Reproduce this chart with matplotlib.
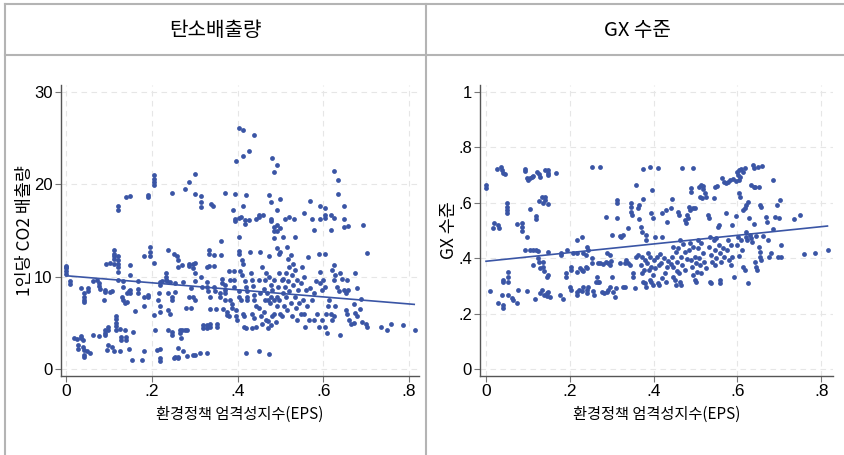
import numpy as np
import matplotlib.pyplot as plt
from matplotlib.lines import Line2D

# 1인당 CO2 배출량 vs EPS (x, y)
co2_pts = np.array([
    (0.000, 11.2), (0.000, 10.9), (0.000, 10.6), (0.000, 10.3), (0.000, 11.0),
    (0.009, 9.5), (0.009, 9.2), (0.018, 3.4), (0.025, 3.3), (0.029, 2.6), (0.029, 2.2),
    (0.034, 3.6), (0.034, 3.4), (0.039, 3.1), (0.039, 2.4), (0.042, 2.1), (0.042, 1.5),
    (0.042, 1.3), (0.048, 2.0), (0.056, 1.7), (0.034, 8.8), (0.042, 8.2), (0.042, 7.8),
    (0.042, 7.5), (0.042, 7.3), (0.052, 8.8), (0.052, 8.4), (0.062, 3.7),
    (0.064, 9.5), (0.072, 9.6), (0.076, 9.3), (0.078, 9.0), (0.079, 8.7), (0.076, 3.6),
    (0.090, 4.2), (0.090, 3.9), (0.090, 3.7), (0.099, 4.6), (0.099, 4.2), (0.090, 8.6),
    (0.090, 8.3), (0.088, 7.5), (0.103, 8.3), (0.107, 8.5), (0.093, 11.4), (0.103, 11.5),
    (0.095, 2.1), (0.099, 2.6), (0.107, 2.4),
    (0.112, 12.9), (0.112, 12.5), (0.112, 12.2), (0.112, 11.9), (0.122, 12.2), (0.122, 11.8),
    (0.122, 11.4), (0.122, 11.1), (0.122, 10.5), (0.113, 11.4), (0.122, 9.6),
    (0.117, 5.7), (0.117, 5.4), (0.117, 5.0), (0.117, 4.7), (0.117, 4.2), (0.112, 1.9),
    (0.126, 4.3), (0.128, 3.5), (0.128, 3.1), (0.126, 1.9), (0.134, 9.5), (0.134, 8.9),
    (0.130, 7.8), (0.132, 7.5), (0.138, 7.1), (0.142, 7.3), (0.142, 8.2), (0.146, 8.4),
    (0.138, 4.2), (0.140, 3.5), (0.140, 3.1), (0.150, 11.3), (0.150, 10.2), (0.150, 8.6),
    (0.150, 8.2), (0.148, 2.2), (0.153, 1.0),
    (0.156, 4.0), (0.161, 6.3), (0.167, 9.5), (0.167, 8.7), (0.167, 8.2), (0.177, 1.0),
    (0.181, 6.8), (0.181, 7.8), (0.182, 2.0), (0.181, 12.2), (0.195, 13.2), (0.195, 12.7),
    (0.195, 12.2), (0.206, 11.5), (0.192, 8.0), (0.192, 7.8), (0.206, 5.8),
    (0.208, 4.2), (0.212, 2.1), (0.218, 2.2), (0.220, 1.2), (0.220, 0.9), (0.220, 9.4),
    (0.220, 9.1), (0.224, 9.5), (0.217, 8.2), (0.215, 7.5), (0.220, 6.8), (0.220, 6.2),
    (0.234, 10.4), (0.234, 10.0), (0.234, 9.6), (0.237, 12.9), (0.235, 9.5), (0.243, 9.4),
    (0.237, 8.2), (0.238, 6.4), (0.243, 6.0), (0.238, 4.2), (0.247, 7.8), (0.247, 7.5),
    (0.251, 12.5), (0.251, 1.2), (0.255, 1.3), (0.255, 9.3), (0.255, 8.3), (0.247, 4.0),
    (0.247, 3.7),
    (0.259, 12.2), (0.260, 11.8), (0.260, 11.1), (0.260, 2.3), (0.260, 1.2), (0.262, 1.3),
    (0.265, 3.9), (0.266, 4.2), (0.268, 3.4), (0.270, 4.2), (0.270, 11.3), (0.272, 9.4),
    (0.273, 2.0), (0.278, 4.2), (0.282, 4.2), (0.280, 6.6), (0.283, 1.4), (0.286, 11.4),
    (0.287, 11.2), (0.292, 8.8), (0.292, 6.6), (0.286, 7.8), (0.297, 11.4), (0.301, 11.5),
    (0.297, 10.9), (0.301, 10.4), (0.297, 7.8), (0.301, 7.5), (0.297, 1.5), (0.301, 1.5),
    (0.300, 9.5),
    (0.312, 1.7), (0.329, 1.7), (0.315, 10.0), (0.317, 8.9), (0.319, 4.8), (0.319, 4.4),
    (0.329, 4.8), (0.329, 4.4), (0.336, 4.9), (0.336, 4.5), (0.329, 9.4), (0.329, 8.9),
    (0.330, 8.4), (0.334, 12.9), (0.334, 12.5), (0.334, 11.2), (0.329, 11.1), (0.335, 6.5),
    (0.344, 8.9), (0.348, 8.4), (0.336, 7.8), (0.346, 12.3), (0.346, 11.2), (0.349, 6.5),
    (0.352, 4.6), (0.352, 4.9),
    (0.360, 7.8), (0.358, 8.2), (0.362, 13.9), (0.362, 12.4), (0.364, 9.7), (0.364, 9.3),
    (0.367, 6.5), (0.371, 9.1), (0.371, 8.6), (0.371, 8.2), (0.371, 7.5), (0.375, 6.2),
    (0.375, 5.8), (0.379, 5.7), (0.379, 10.6), (0.383, 9.6), (0.383, 7.5), (0.387, 7.0),
    (0.387, 6.6), (0.391, 10.6), (0.391, 9.6), (0.391, 8.9), (0.397, 6.4), (0.397, 5.7),
    (0.399, 5.3), (0.403, 14.3), (0.403, 12.8), (0.403, 12.5), (0.403, 8.4), (0.403, 7.8),
    (0.407, 7.5), (0.405, 10.6), (0.410, 10.2), (0.410, 11.8), (0.413, 11.4), (0.413, 6.0),
    (0.414, 5.7), (0.416, 4.6), (0.420, 1.7), (0.418, 9.5), (0.420, 8.9), (0.422, 8.4),
    (0.422, 7.8), (0.422, 7.5), (0.420, 4.4), (0.430, 12.7), (0.432, 10.4), (0.434, 9.6),
    (0.436, 9.0), (0.438, 8.0), (0.438, 7.5), (0.434, 6.0), (0.438, 5.5), (0.442, 6.8),
    (0.442, 4.6), (0.434, 4.4), (0.449, 1.9),
    (0.453, 12.7), (0.458, 11.1), (0.449, 9.6), (0.461, 8.7), (0.452, 8.2), (0.463, 7.5),
    (0.455, 5.7), (0.466, 5.3), (0.458, 4.9), (0.451, 6.6), (0.462, 6.2), (0.467, 10.4),
    (0.474, 10.0), (0.465, 9.6), (0.477, 9.1), (0.469, 8.2), (0.479, 7.8), (0.470, 7.5),
    (0.476, 7.1), (0.473, 1.6), (0.473, 12.2), (0.481, 5.7), (0.472, 5.2), (0.479, 4.8),
    (0.470, 4.4), (0.486, 9.6), (0.481, 8.6), (0.491, 7.8), (0.484, 7.5), (0.493, 6.8),
    (0.485, 6.0), (0.490, 5.1), (0.492, 13.1), (0.496, 12.5), (0.500, 12.7), (0.496, 10.4),
    (0.503, 9.6), (0.494, 8.9), (0.506, 8.2), (0.497, 7.5), (0.509, 6.8), (0.499, 6.0),
    (0.504, 5.7), (0.512, 10.4), (0.506, 9.8), (0.518, 9.5), (0.510, 8.9), (0.521, 8.4),
    (0.513, 7.8), (0.524, 7.1), (0.515, 6.4), (0.527, 5.7), (0.516, 13.2), (0.525, 12.3),
    (0.517, 11.9), (0.529, 11.4), (0.521, 11.1), (0.533, 10.7), (0.526, 10.2), (0.538, 9.6),
    (0.530, 9.1), (0.541, 8.6), (0.533, 7.8), (0.544, 7.1), (0.536, 6.6), (0.547, 6.0),
    (0.539, 5.3), (0.551, 11.1), (0.556, 10.0), (0.549, 9.3), (0.560, 8.6), (0.552, 7.5),
    (0.563, 6.8), (0.555, 6.0), (0.566, 5.3), (0.558, 4.6), (0.564, 12.1),
    (0.570, 8.8), (0.578, 8.2), (0.582, 9.5), (0.574, 7.5), (0.586, 6.0), (0.579, 5.3),
    (0.590, 4.6), (0.590, 12.5), (0.578, 15.1), (0.593, 10.5), (0.599, 9.6), (0.592, 9.3),
    (0.604, 8.9), (0.596, 8.6), (0.607, 6.0), (0.598, 5.3), (0.603, 4.6), (0.609, 3.9),
    (0.603, 12.5), (0.612, 6.8), (0.613, 7.5), (0.617, 6.0), (0.621, 5.3), (0.625, 5.7),
    (0.628, 6.8), (0.625, 11.3), (0.621, 10.7), (0.628, 10.2), (0.624, 9.6), (0.632, 8.9),
    (0.636, 8.4), (0.639, 3.7), (0.640, 10.4), (0.644, 9.8), (0.648, 8.6), (0.652, 8.2),
    (0.656, 9.6), (0.657, 8.6), (0.652, 6.4), (0.656, 6.0), (0.660, 5.3), (0.664, 4.9),
    (0.675, 10.4), (0.679, 8.8), (0.671, 7.0), (0.675, 6.1), (0.679, 5.7), (0.671, 5.0),
    (0.687, 7.6), (0.685, 6.5), (0.691, 5.1), (0.699, 4.9), (0.702, 4.6), (0.702, 12.6),
    (0.735, 4.6), (0.749, 4.2), (0.759, 4.9), (0.787, 4.8), (0.814, 4.2),
    # 상단 이상치
    (0.403, 26.1), (0.412, 25.9), (0.439, 25.3), (0.397, 22.5), (0.412, 23.1), (0.426, 23.6),
    (0.481, 22.9), (0.491, 22.1), (0.486, 21.3), (0.625, 21.4), (0.634, 20.5), (0.634, 19.0),
    (0.204, 21.0), (0.204, 20.6), (0.204, 20.3), (0.204, 19.9), (0.301, 21.1), (0.287, 20.2),
    (0.278, 19.5), (0.246, 19.1), (0.190, 18.8), (0.190, 18.6), (0.140, 18.6), (0.150, 18.7),
    (0.122, 17.7), (0.122, 17.2), (0.301, 19.0), (0.315, 18.7), (0.315, 18.1), (0.315, 17.5),
    (0.338, 17.9), (0.343, 17.6), (0.370, 19.1), (0.393, 18.9), (0.420, 18.8), (0.413, 17.6),
    (0.389, 17.2), (0.394, 16.2), (0.394, 16.0), (0.403, 16.4), (0.407, 16.5), (0.418, 16.1),
    (0.418, 15.7), (0.426, 16.1), (0.442, 16.3), (0.449, 16.7), (0.449, 16.5), (0.460, 16.7),
    (0.473, 18.8), (0.477, 18.1), (0.500, 18.4), (0.491, 17.2), (0.478, 16.3), (0.478, 16.0),
    (0.484, 15.4), (0.486, 14.9), (0.491, 15.6), (0.493, 15.0), (0.498, 15.3),
    (0.510, 16.3), (0.520, 16.5), (0.531, 16.3), (0.484, 14.2), (0.505, 14.3), (0.533, 14.3),
    (0.569, 18.2), (0.555, 16.9), (0.574, 16.3), (0.593, 17.6), (0.593, 16.3), (0.603, 17.4),
    (0.603, 16.7), (0.603, 16.4), (0.618, 16.7), (0.618, 15.1), (0.625, 16.4), (0.648, 17.7),
    (0.648, 16.2), (0.648, 15.4), (0.657, 15.5), (0.693, 15.6),
])

# GX 수준 vs EPS (x, y)
gx_pts = np.array([
    (0.000, 0.664), (0.000, 0.652), (0.010, 0.283), (0.019, 0.526), (0.017, 0.508),
    (0.029, 0.520), (0.032, 0.508), (0.027, 0.721), (0.035, 0.730), (0.037, 0.718),
    (0.041, 0.706), (0.045, 0.704), (0.029, 0.237), (0.037, 0.267), (0.041, 0.231),
    (0.041, 0.219), (0.040, 0.315), (0.040, 0.321), (0.051, 0.598), (0.051, 0.586),
    (0.051, 0.574), (0.051, 0.562), (0.053, 0.351), (0.053, 0.333), (0.053, 0.315),
    (0.053, 0.267), (0.061, 0.255), (0.065, 0.249), (0.073, 0.237), (0.073, 0.523),
    (0.077, 0.285), (0.085, 0.528), (0.087, 0.514), (0.087, 0.499), (0.093, 0.721),
    (0.093, 0.715), (0.097, 0.283), (0.097, 0.478), (0.097, 0.690), (0.101, 0.684),
    (0.105, 0.690), (0.109, 0.693), (0.113, 0.697), (0.106, 0.576), (0.111, 0.430),
    (0.105, 0.430), (0.093, 0.430), (0.111, 0.375), (0.117, 0.251), (0.119, 0.552),
    (0.119, 0.540), (0.119, 0.430), (0.125, 0.427), (0.122, 0.712), (0.127, 0.704),
    (0.129, 0.694), (0.125, 0.400), (0.127, 0.387), (0.129, 0.363), (0.130, 0.273),
    (0.133, 0.285), (0.127, 0.608), (0.133, 0.620), (0.137, 0.598), (0.137, 0.387),
    (0.137, 0.369), (0.139, 0.355), (0.141, 0.720), (0.149, 0.720), (0.149, 0.709),
    (0.149, 0.700), (0.141, 0.620), (0.141, 0.610), (0.149, 0.596), (0.138, 0.266),
    (0.145, 0.273), (0.145, 0.263), (0.149, 0.279), (0.152, 0.261), (0.145, 0.333),
    (0.149, 0.339), (0.149, 0.424), (0.167, 0.709),
    (0.176, 0.267), (0.184, 0.251), (0.180, 0.420), (0.180, 0.412), (0.191, 0.345),
    (0.191, 0.333), (0.194, 0.430), (0.200, 0.295), (0.204, 0.285), (0.202, 0.369),
    (0.204, 0.357), (0.208, 0.418), (0.217, 0.420), (0.216, 0.466), (0.230, 0.478),
    (0.216, 0.279), (0.218, 0.267), (0.222, 0.285), (0.230, 0.283), (0.232, 0.297),
    (0.240, 0.285), (0.241, 0.273), (0.244, 0.295), (0.218, 0.351), (0.224, 0.363),
    (0.228, 0.357), (0.232, 0.355), (0.238, 0.369), (0.241, 0.363), (0.232, 0.418),
    (0.238, 0.412), (0.240, 0.440), (0.244, 0.430), (0.252, 0.400), (0.252, 0.381),
    (0.254, 0.730), (0.256, 0.283), (0.257, 0.267), (0.262, 0.315), (0.264, 0.333),
    (0.268, 0.315), (0.270, 0.315), (0.268, 0.381), (0.272, 0.384), (0.272, 0.730),
    (0.276, 0.279), (0.281, 0.273), (0.288, 0.279), (0.291, 0.285), (0.297, 0.295),
    (0.280, 0.379), (0.286, 0.387), (0.291, 0.381), (0.295, 0.375), (0.299, 0.391),
    (0.286, 0.548), (0.288, 0.418), (0.295, 0.412), (0.300, 0.484), (0.300, 0.333),
    (0.303, 0.279), (0.307, 0.261), (0.310, 0.291), (0.313, 0.544), (0.313, 0.610),
    (0.313, 0.598), (0.319, 0.480), (0.323, 0.478), (0.319, 0.381), (0.326, 0.297),
    (0.331, 0.297), (0.327, 0.484), (0.331, 0.381), (0.335, 0.393), (0.339, 0.381),
    (0.343, 0.375), (0.339, 0.508), (0.347, 0.598), (0.347, 0.586), (0.347, 0.568),
    (0.349, 0.556), (0.351, 0.345), (0.351, 0.333), (0.355, 0.291), (0.359, 0.406),
    (0.363, 0.412), (0.363, 0.580), (0.365, 0.540), (0.359, 0.664), (0.365, 0.592),
    (0.371, 0.514), (0.373, 0.496), (0.373, 0.406), (0.380, 0.394), (0.369, 0.375),
    (0.378, 0.357), (0.372, 0.345), (0.375, 0.614), (0.375, 0.721), (0.392, 0.730),
    (0.411, 0.724), (0.375, 0.315), (0.379, 0.309), (0.381, 0.297), (0.383, 0.484),
    (0.383, 0.466), (0.387, 0.418), (0.391, 0.406), (0.384, 0.381), (0.395, 0.369),
    (0.388, 0.357), (0.399, 0.339), (0.392, 0.321), (0.395, 0.315), (0.399, 0.303),
    (0.397, 0.646), (0.395, 0.562), (0.399, 0.544),
    (0.403, 0.475), (0.409, 0.406), (0.401, 0.394), (0.412, 0.375), (0.404, 0.363),
    (0.411, 0.312), (0.413, 0.303), (0.419, 0.562), (0.421, 0.478), (0.416, 0.415),
    (0.426, 0.400), (0.418, 0.381), (0.428, 0.345), (0.420, 0.327), (0.429, 0.315),
    (0.430, 0.574), (0.432, 0.532), (0.434, 0.391), (0.441, 0.379), (0.431, 0.369),
    (0.442, 0.580), (0.445, 0.612), (0.446, 0.440), (0.454, 0.424), (0.443, 0.406),
    (0.457, 0.388), (0.447, 0.370), (0.455, 0.352), (0.446, 0.333), (0.450, 0.321),
    (0.453, 0.303), (0.458, 0.568), (0.461, 0.556), (0.462, 0.466), (0.471, 0.452),
    (0.459, 0.436), (0.476, 0.421), (0.465, 0.404), (0.480, 0.396), (0.468, 0.377),
    (0.474, 0.359), (0.461, 0.347), (0.462, 0.315), (0.466, 0.303), (0.468, 0.724),
    (0.474, 0.538), (0.477, 0.526), (0.480, 0.556), (0.482, 0.544), (0.485, 0.586),
    (0.488, 0.574), (0.486, 0.454), (0.495, 0.442), (0.484, 0.430), (0.498, 0.406),
    (0.489, 0.394), (0.501, 0.381), (0.492, 0.369), (0.503, 0.351), (0.494, 0.339),
    (0.494, 0.724), (0.490, 0.652), (0.490, 0.640), (0.494, 0.580), (0.498, 0.580),
    (0.498, 0.321), (0.502, 0.315),
    (0.506, 0.466), (0.514, 0.454), (0.505, 0.436), (0.518, 0.418), (0.508, 0.400),
    (0.521, 0.388), (0.510, 0.376), (0.524, 0.364), (0.513, 0.345), (0.508, 0.658),
    (0.514, 0.664), (0.518, 0.661), (0.519, 0.649), (0.522, 0.634), (0.511, 0.622),
    (0.516, 0.616), (0.526, 0.622), (0.530, 0.556), (0.532, 0.544), (0.535, 0.478),
    (0.543, 0.466), (0.532, 0.442), (0.547, 0.430), (0.536, 0.412), (0.549, 0.400),
    (0.539, 0.388), (0.546, 0.375), (0.535, 0.315), (0.538, 0.309), (0.544, 0.616),
    (0.546, 0.656), (0.551, 0.661), (0.550, 0.472), (0.554, 0.514), (0.556, 0.520),
    (0.556, 0.448), (0.565, 0.436), (0.558, 0.418), (0.567, 0.406), (0.560, 0.388),
    (0.558, 0.321), (0.559, 0.309), (0.564, 0.688), (0.567, 0.676), (0.572, 0.670),
    (0.573, 0.562), (0.577, 0.466), (0.585, 0.448), (0.575, 0.430), (0.588, 0.406),
    (0.579, 0.394), (0.584, 0.375), (0.577, 0.676), (0.583, 0.683), (0.589, 0.686),
    (0.596, 0.680), (0.588, 0.520), (0.591, 0.333), (0.597, 0.552),
    (0.599, 0.712), (0.604, 0.718), (0.609, 0.721), (0.613, 0.712), (0.617, 0.724),
    (0.601, 0.700), (0.607, 0.692), (0.605, 0.683), (0.601, 0.478), (0.608, 0.466),
    (0.599, 0.448), (0.611, 0.430), (0.603, 0.409), (0.605, 0.634), (0.607, 0.622),
    (0.613, 0.574), (0.617, 0.580), (0.613, 0.369), (0.617, 0.357), (0.621, 0.496),
    (0.621, 0.478), (0.623, 0.466), (0.621, 0.592), (0.625, 0.604), (0.625, 0.312),
    (0.627, 0.544), (0.631, 0.484), (0.633, 0.472), (0.635, 0.460), (0.637, 0.736),
    (0.639, 0.724), (0.649, 0.730), (0.659, 0.733), (0.633, 0.664), (0.639, 0.658),
    (0.643, 0.656), (0.651, 0.658), (0.639, 0.523), (0.641, 0.387), (0.645, 0.369),
    (0.647, 0.357), (0.653, 0.592), (0.657, 0.586), (0.651, 0.440), (0.654, 0.424),
    (0.653, 0.406), (0.657, 0.394), (0.645, 0.480), (0.661, 0.480), (0.669, 0.548),
    (0.670, 0.532), (0.673, 0.466), (0.675, 0.406), (0.681, 0.420), (0.685, 0.682),
    (0.686, 0.504), (0.690, 0.548), (0.694, 0.592), (0.697, 0.406), (0.700, 0.544),
    (0.702, 0.610), (0.704, 0.448), (0.704, 0.403), (0.734, 0.540), (0.750, 0.556),
    (0.758, 0.415), (0.786, 0.418), (0.816, 0.430),
])

# 선형 적합선 (절편, 기울기)
co2_fit = (10.1, -3.82)
gx_fit = (0.389, 0.156)
fit_x = [0.0, 0.812]
gx_fit_x = [0.0, 0.815]

x_ticks = [0, 0.2, 0.4, 0.6, 0.8]
x_ticklabels = ['0', '.2', '.4', '.6', '.8']
co2_ticks = [0, 10, 20, 30]
co2_ticklabels = ['0', '10', '20', '30']
gx_ticks = [0, 0.2, 0.4, 0.6, 0.8, 1.0]
gx_ticklabels = ['0', '.2', '.4', '.6', '.8', '1']

panel_titles = ['탄소배출량', 'GX 수준']
y_labels = ['1인당 CO2 배출량', 'GX 수준']
x_label = '환경정책 엄격성지수(EPS)'

kr = ['Noto Sans CJK KR', 'DejaVu Sans']
num = ['Liberation Sans Narrow', 'Liberation Sans', 'DejaVu Sans']
dot_color = '#3a55a5'

fig = plt.figure(figsize=(8.44, 4.55), dpi=100)

ax1 = fig.add_axes([0.0723, 0.1736, 0.4242, 0.6396])
ax2 = fig.add_axes([0.5691, 0.1736, 0.4175, 0.6396])

panels = [
    (ax1, co2_pts, co2_fit, fit_x, co2_ticks, co2_ticklabels, (-0.0117, 0.8233), (-0.76, 30.76), -0.076),
    (ax2, gx_pts, gx_fit, gx_fit_x, gx_ticks, gx_ticklabels, (-0.0136, 0.8275), (-0.0253, 1.0253), -0.062),
]

for i, (ax, pts, fit, fx, yt, ytl, xl, yl, lx) in enumerate(panels):
    ax.scatter(pts[:, 0], pts[:, 1], s=12, color=dot_color, linewidths=0, zorder=3)
    fx = np.array(fx)
    ax.plot(fx, fit[0] + fit[1] * fx, color=dot_color, lw=1.2, zorder=4)
    ax.set_xlim(*xl)
    ax.set_ylim(*yl)
    ax.set_xticks(x_ticks)
    ax.set_xticklabels(x_ticklabels, family=num, fontsize=12.5)
    ax.set_yticks(yt)
    ax.set_yticklabels(ytl, family=num, fontsize=12)
    for s in ['top', 'right']:
        ax.spines[s].set_visible(False)
    for s in ['left', 'bottom']:
        ax.spines[s].set_color('#555555')
        ax.spines[s].set_linewidth(1.0)
    ax.tick_params(direction='out', length=4, width=0.8, color='#777777', pad=2)
    ax.grid(True, color='#e6e6e6', linestyle=(0, (5, 4)), linewidth=0.8, zorder=0)
    ax.set_axisbelow(True)
    ax.set_xlabel(x_label, family=kr, fontsize=11, labelpad=5)
    ax.set_ylabel(y_labels[i], family=kr, fontsize=12.5)
    ax.yaxis.set_label_coords(lx, 0.5)

# 상단 제목 칸과 구분선
fig.text(0.2547, 0.934, panel_titles[0], family=kr, fontsize=14.5, ha='center', va='center')
fig.text(0.7547, 0.934, panel_titles[1], family=kr, fontsize=14.5, ha='center', va='center')

frame = '#b4b4b4'
H, W = 455.0, 844.0
fig.add_artist(Line2D([5 / W, 1], [1 - 4 / H, 1 - 4 / H], color=frame, lw=1.5))
fig.add_artist(Line2D([5 / W, 1], [1 - 55 / H, 1 - 55 / H], color=frame, lw=1.5))
fig.add_artist(Line2D([5 / W, 5 / W], [0, 1 - 4 / H], color=frame, lw=1.5))
fig.add_artist(Line2D([426 / W, 426 / W], [0, 1 - 4 / H], color=frame, lw=1.5))

fig.savefig('out.png', dpi=100)
